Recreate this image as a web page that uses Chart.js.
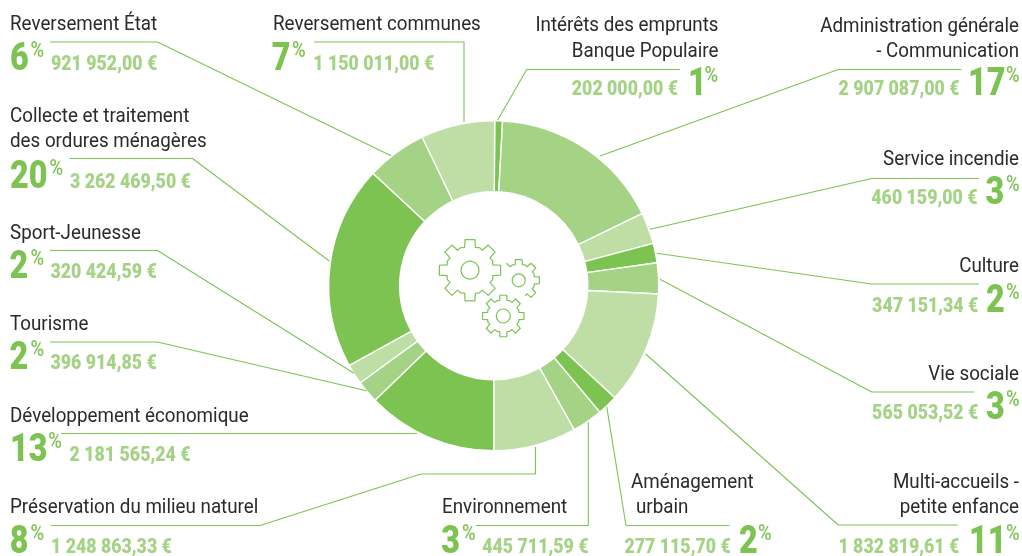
<!DOCTYPE html>
<html lang="fr">
<head>
<meta charset="utf-8">
<title>Dépenses</title>
<style>
  html, body { margin: 0; padding: 0; background: #fff; }
  canvas { display: block; }
</style>
<script src="https://cdn.jsdelivr.net/npm/chart.js@4/dist/chart.umd.min.js"></script>
</head>
<body>
<canvas id="myChart" width="1022" height="556"></canvas>
<script>
// clockwise from the top
const categories = [
    "Intérêts des emprunts Banque Populaire",
    "Administration générale - Communication",
    "Service incendie",
    "Culture",
    "Vie sociale",
    "Multi-accueils - petite enfance",
    "Aménagement urbain",
    "Environnement",
    "Préservation du milieu naturel",
    "Développement économique",
    "Tourisme",
    "Sport-Jeunesse",
    "Collecte et traitement des ordures ménagères",
    "Reversement État",
    "Reversement communes",
];
// size of each ring slice, in % of the ring
// (the drawing is not strictly proportional to the printed amounts)
const sliceShares = [
    0.76, 16.94, 3.08, 1.9, 3.03,
    11.08, 2.0, 3.0, 8.11, 12.78,
    2.22, 1.97, 19.97, 5.92, 7.24,
];
const amountLabels = [
    "202 000,00 €", "2 907 087,00 €", "460 159,00 €", "347 151,34 €", "565 053,52 €",
    "1 832 819,61 €", "277 115,70 €", "445 711,59 €", "1 248 863,33 €", "2 181 565,24 €",
    "396 914,85 €", "320 424,59 €", "3 262 469,50 €", "921 952,00 €", "1 150 011,00 €",
];
const percents = ["1", "17", "3", "2", "3", "11", "2", "3", "8", "13", "2", "2", "20", "6", "7"];

const DARK = "#7dc352";
const MID = "#a5d386";
const LIGHT = "#bfdea6";
const sliceColors = categories.map((c, i) => [DARK, MID, LIGHT][i % 3]);

// layout of the callouts, same order as categories
// lines: [text, x, baseline], side: which way the block hangs from its anchor
const callouts = [
    { side: "r", lines: [["Intérêts des emprunts", 718.5, 30.5], ["Banque Populaire", 718.5, 56.5]],
      amt: [678, 95], pct: [688, 95], sign: [704.5, 82], leader: [[680, 69.5], [526.7, 69.5], [497.7, 120]] },
    { side: "r", lines: [["Administration générale", 1019, 32], ["- Communication", 1019, 57]],
      amt: [959.5, 95], pct: [968, 95], sign: [1006, 82], leader: [[961.3, 69.5], [838.3, 69.5], [600, 156]] },
    { side: "r", lines: [["Service incendie", 1019, 165]],
      amt: [977.5, 204], pct: [985.5, 204], sign: [1006, 191], leader: [[979, 178.5], [871.7, 178.5], [650, 229.3]] },
    { side: "r", lines: [["Culture", 1019, 272.3]],
      amt: [978.3, 311.7], pct: [986, 311.7], sign: [1006, 298.7], leader: [[979, 284], [871.7, 284], [656.7, 253.3]] },
    { side: "r", lines: [["Vie sociale", 1019, 380]],
      amt: [978.3, 419], pct: [986, 419], sign: [1006, 406], leader: [[974, 392], [871.7, 392], [660, 279.3]] },
    { side: "r", lines: [["Multi-accueils -", 1019, 488.3], ["petite enfance", 1019, 513.3]],
      amt: [959.3, 553], pct: [969, 553], sign: [1006, 540], leader: [[957.7, 525], [838.3, 525], [645.7, 354]] },
    { side: "r", lines: [["Aménagement", 631, 487.7, "l"], ["urbain", 636, 513.3, "l"]],
      amt: [730.7, 553], pct: [739, 553], sign: [758, 540], leader: [[729.3, 525.5], [626, 525.5], [606.7, 406.7]] },
    { side: "l", lines: [["Environnement", 442, 513.3]],
      amt: [482.3, 553], pct: [441.3, 553], sign: [462, 540], leader: [[476, 525.5], [588.3, 525.5], [588.3, 422]] },
    { side: "l", lines: [["Préservation du milieu naturel", 10, 513.3]],
      amt: [51, 553], pct: [9.7, 553], sign: [30.5, 540], leader: [[51, 525.5], [260, 525.5], [421, 474], [535.5, 474], [535.5, 447]] },
    { side: "l", lines: [["Développement économique", 10, 421.7]],
      amt: [69.6, 461], pct: [10, 461], sign: [48.2, 448], leader: [[61, 433.5], [417, 433.5]] },
    { side: "l", lines: [["Tourisme", 10, 330]],
      amt: [50.5, 369.3], pct: [9.5, 369.3], sign: [30.5, 356.3], leader: [[50, 342], [157.5, 342], [366.7, 390.7]] },
    { side: "l", lines: [["Sport-Jeunesse", 10, 239.3]],
      amt: [50.5, 278.3], pct: [9.5, 278.3], sign: [30.5, 265.3], leader: [[50, 250.5], [157.5, 250.5], [354, 373.3]] },
    { side: "l", lines: [["Collecte et traitement", 10, 121.7], ["des ordures ménagères", 10, 147]],
      amt: [70, 187.7], pct: [10, 187.7], sign: [49.5, 174.7], leader: [[69.5, 158.5], [192.5, 158.5], [329.3, 261]] },
    { side: "l", lines: [["Reversement État", 10, 30]],
      amt: [51, 70], pct: [10, 70], sign: [30.5, 57], leader: [[50, 42], [157.5, 42], [391, 155.7]] },
    { side: "l", lines: [["Reversement communes", 273, 30]],
      amt: [313.3, 70], pct: [271.7, 70], sign: [292, 57], leader: [[314, 42], [464, 42], [464, 121.7]] },
];

// Roboto has no condensed cut here, so squeeze it horizontally with maxWidth
const putText = (ctx, text, x, y, font, color, align, squeeze) => {
    ctx.font = font;
    ctx.fillStyle = color;
    ctx.textAlign = align;
    ctx.textBaseline = "alphabetic";
    ctx.fillText(text, x, y, ctx.measureText(text).width * squeeze);
};

// from/to in radians clockwise from the top, leave them out for a closed gear
const drawGear = (ctx, cx, cy, rTip, rRoot, ringR, from, to) => {
    const pts = [];
    for (let i = -4; i < 4; i++) {
        const a = i * Math.PI / 4;
        pts.push([rRoot, a - 0.23], [rTip, a - 0.16], [rTip, a + 0.16], [rRoot, a + 0.23]);
        pts.push([rRoot * 1.04, a + Math.PI / 8]);
    }
    const list = from === undefined ? pts : pts.filter((p) => p[1] >= from && p[1] <= to);
    ctx.beginPath();
    list.forEach((p, k) => {
        const x = cx + Math.sin(p[1]) * p[0];
        const y = cy - Math.cos(p[1]) * p[0];
        if (k) ctx.lineTo(x, y); else ctx.moveTo(x, y);
    });
    if (from === undefined) ctx.closePath();
    ctx.stroke();
    ctx.beginPath();
    ctx.arc(cx, cy, ringR, 0, Math.PI * 2);
    ctx.stroke();
};

const calloutPlugin = {
    id: "callouts",
    afterDraw(chart) {
        const ctx = chart.ctx;
        ctx.save();
        ctx.strokeStyle = DARK;
        ctx.lineWidth = 1.1;
        ctx.lineJoin = "round";
        callouts.forEach((c, i) => {
            ctx.beginPath();
            c.leader.forEach((p, k) => (k ? ctx.lineTo(p[0], p[1]) : ctx.moveTo(p[0], p[1])));
            ctx.stroke();

            c.lines.forEach((l) => {
                const align = (l[3] || c.side) === "r" ? "right" : "left";
                putText(ctx, l[0], l[1], l[2], "400 19.5px Roboto", "#2b2a29", align, 0.963);
            });
            const amtAlign = c.side === "r" ? "right" : "left";
            putText(ctx, amountLabels[i], c.amt[0], c.amt[1], "900 21px Roboto", MID, amtAlign, 0.845);
            putText(ctx, percents[i], c.pct[0], c.pct[1], "900 38.5px Roboto", DARK, "left", 0.84);
            putText(ctx, "%", c.sign[0], c.sign[1], "500 21.5px Roboto", DARK, "left", 0.86);
        });

        ctx.lineWidth = 1.2;
        drawGear(ctx, 470, 270.2, 31, 23.5, 9);
        drawGear(ctx, 518.7, 280.3, 21, 16, 6.5, -0.75, 2.75);
        drawGear(ctx, 503.3, 316, 21, 16, 7);
        ctx.restore();
    },
};

new Chart(document.getElementById("myChart"), {
    type: "doughnut",
    data: {
        labels: categories,
        datasets: [{
            data: sliceShares,
            backgroundColor: sliceColors,
            borderColor: "#ffffff",
            borderWidth: 1.4,
        }],
    },
    options: {
        responsive: false,
        animation: false,
        cutout: "57%",
        rotation: 0.35,
        layout: { padding: { left: 328, right: 362.6, top: 120, bottom: 104.6 } },
        plugins: { legend: { display: false }, tooltip: { enabled: false } },
    },
    plugins: [calloutPlugin],
});
</script>
</body>
</html>
